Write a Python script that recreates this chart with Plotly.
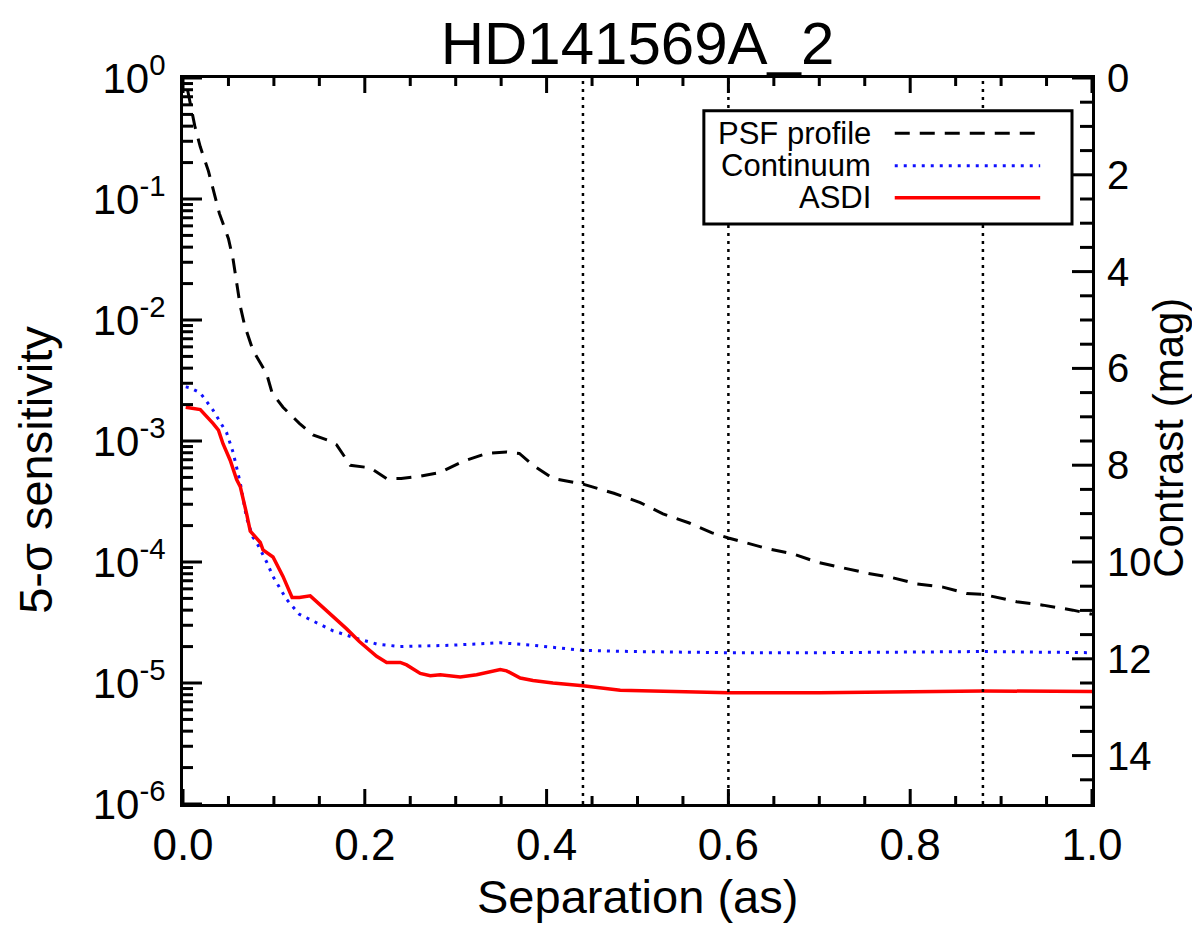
import math
import plotly.graph_objects as go

# ---------------- data ----------------
psf_sep = [0.005, 0.013, 0.019, 0.028, 0.040, 0.050, 0.055, 0.063, 0.068, 0.077,
           0.092, 0.098, 0.110, 0.120, 0.128, 0.143, 0.162, 0.169, 0.184, 0.206,
           0.224, 0.240, 0.260, 0.283, 0.308, 0.334, 0.356, 0.370, 0.385, 0.407,
           0.440, 0.474, 0.503, 0.528, 0.557, 0.582, 0.600, 0.643, 0.671, 0.697,
           0.726, 0.752, 0.781, 0.807, 0.836, 0.862, 0.880, 0.917, 0.946, 0.979, 1.000]
psf_val = [0.80, 0.40, 0.27, 0.17, 0.076, 0.047, 0.032, 0.013, 0.0089, 0.0056,
           0.0036, 0.0025, 0.0019, 0.0016, 0.0014, 0.00112, 0.0010, 0.00093, 0.00063, 0.00060,
           0.00049, 0.00049, 0.00051, 0.00055, 0.00068, 0.00079, 0.00081, 0.00079, 0.00063, 0.00049,
           0.00044, 0.00037, 0.00031, 0.00025, 0.00021, 0.000174, 0.000158, 0.000129, 0.000117, 0.000100,
           8.9e-5, 8.1e-5, 7.4e-5, 6.6e-5, 6.2e-5, 5.5e-5, 5.4e-5, 4.7e-5, 4.4e-5, 4.0e-5, 3.7e-5]

cont_sep = [0.003, 0.008, 0.019, 0.033, 0.048, 0.055, 0.063, 0.070, 0.077, 0.081,
            0.092, 0.099, 0.114, 0.128, 0.165, 0.190, 0.213, 0.239, 0.294, 0.349,
            0.385, 0.440, 0.495, 0.600, 0.700, 0.800, 0.880, 1.000]
cont_val = [2.8e-3, 2.75e-3, 2.5e-3, 1.8e-3, 1.17e-3, 8.1e-4, 4.5e-4, 2.3e-4, 1.6e-4, 1.45e-4,
            1.0e-4, 7.6e-5, 4.9e-5, 3.7e-5, 2.7e-5, 2.35e-5, 2.1e-5, 2.0e-5, 2.05e-5, 2.15e-5,
            2.05e-5, 1.86e-5, 1.82e-5, 1.78e-5, 1.78e-5, 1.80e-5, 1.82e-5, 1.78e-5]

asdi_sep = [0.003, 0.019, 0.033, 0.039, 0.044, 0.052, 0.059, 0.063, 0.070, 0.074,
            0.085, 0.088, 0.099, 0.110, 0.120, 0.128, 0.140, 0.147, 0.154, 0.165,
            0.180, 0.194, 0.213, 0.224, 0.239, 0.246, 0.261, 0.272, 0.283, 0.305,
            0.323, 0.349, 0.356, 0.371, 0.385, 0.407, 0.440, 0.481, 0.532, 0.600,
            0.700, 0.800, 0.880, 1.000]
asdi_val = [1.9e-3, 1.82e-3, 1.4e-3, 1.23e-3, 9.5e-4, 6.9e-4, 4.8e-4, 4.2e-4, 2.5e-4, 1.8e-4,
            1.45e-4, 1.26e-4, 1.1e-4, 7.6e-5, 5.1e-5, 5.1e-5, 5.25e-5, 4.7e-5, 4.2e-5, 3.6e-5,
            2.8e-5, 2.2e-5, 1.66e-5, 1.48e-5, 1.48e-5, 1.41e-5, 1.2e-5, 1.15e-5, 1.17e-5, 1.12e-5,
            1.17e-5, 1.29e-5, 1.26e-5, 1.1e-5, 1.05e-5, 1.0e-5, 9.5e-6, 8.7e-6, 8.5e-6, 8.3e-6,
            8.3e-6, 8.4e-6, 8.6e-6, 8.5e-6]

marker_sep = [0.44, 0.60, 0.88]

series_names = ["PSF profile", "Continuum", "ASDI"]
x_ticks = [0.0, 0.2, 0.4, 0.6, 0.8, 1.0]
x_ticklabels = ["0.0", "0.2", "0.4", "0.6", "0.8", "1.0"]
x_minor_ticks = [0.05, 0.10, 0.15, 0.25, 0.30, 0.35, 0.45, 0.50, 0.55,
                 0.65, 0.70, 0.75, 0.85, 0.90, 0.95]
y_ticks = [1e0, 1e-1, 1e-2, 1e-3, 1e-4, 1e-5, 1e-6]
y_ticklabels = ["10<sup>0</sup>", "10<sup>-1</sup>", "10<sup>-2</sup>", "10<sup>-3</sup>",
                "10<sup>-4</sup>", "10<sup>-5</sup>", "10<sup>-6</sup>"]
mag_ticks = [0, 2, 4, 6, 8, 10, 12, 14]
mag_minor_ticks = [0.5, 1, 1.5, 2.5, 3, 3.5, 4.5, 5, 5.5, 6.5, 7, 7.5, 8.5, 9, 9.5,
                   10.5, 11, 11.5, 12.5, 13, 13.5, 14.5]

# ---------------- geometry ----------------
FIG_W, FIG_H = 1192, 928
M_L, M_R, M_T, M_B = 175, 108, 70, 132
PLOT_W = FIG_W - M_L - M_R
PLOT_H = FIG_H - M_T - M_B
X_RANGE = [0, 1]
LOG_RANGE = [-6, 0]
MAG_RANGE = [15, 0]
px_x = PLOT_W / (X_RANGE[1] - X_RANGE[0])          # pixels per unit of separation
px_dec = PLOT_H / (LOG_RANGE[1] - LOG_RANGE[0])    # pixels per decade

FONT = "Liberation Sans, Arial, Helvetica, sans-serif"
styles = [dict(color="black", width=3, dash="15px,10px"),
          dict(color="#1010ff", width=3, dash="3px,6px"),
          dict(color="#ff0000", width=3.5)]

fig = go.Figure()
for sx, sv, nm, st in zip([psf_sep, cont_sep, asdi_sep], [psf_val, cont_val, asdi_val],
                          series_names, styles):
    fig.add_trace(go.Scatter(x=sx, y=sv, mode="lines", name=nm, line=st,
                             showlegend=False))

# invisible trace so the right (magnitude) axis is active
fig.add_trace(go.Scatter(x=[0.5], y=[7], yaxis="y2", mode="markers",
                         marker=dict(opacity=0), showlegend=False, hoverinfo="skip"))

for xv in marker_sep:
    fig.add_shape(type="line", xref="x", yref="paper", x0=xv, x1=xv, y0=0, y1=1,
                  line=dict(color="black", width=2.5, dash="3px,5px"), layer="above")

# ---- inward tick marks: one short two-point line per tick, on the main axes ----
TK = dict(color="black", width=3)


def seg(xs, ys):
    fig.add_trace(go.Scatter(x=xs, y=ys, mode="lines", line=TK, cliponaxis=False,
                             showlegend=False, hoverinfo="skip"))


y_bot, y_top = 10.0 ** LOG_RANGE[0], 10.0 ** LOG_RANGE[1]
for vals, length in ((x_ticks, 15), (x_minor_ticks, 8)):
    f = 10.0 ** (length / px_dec)
    for xv in vals:
        seg([xv, xv], [y_bot, y_bot * f])
        seg([xv, xv], [y_top, y_top / f])

left_minor = [m * 10.0 ** e for e in range(-6, 0) for m in range(2, 10)]
for vals, length in ((y_ticks, 19), (left_minor, 10)):
    d = length / px_x
    for v in vals:
        seg([X_RANGE[0], X_RANGE[0] + d], [v, v])

for vals, length in ((mag_ticks, 20), (mag_minor_ticks, 12)):
    d = length / px_x
    for mg in vals:
        s = 10.0 ** (-mg / 2.5)
        seg([X_RANGE[1], X_RANGE[1] - d], [s, s])

# custom legend (symbols to the right of labels)
leg_x0, leg_x1, leg_y0, leg_y1 = 0.573, 0.978, 0.799, 0.955
fig.add_shape(type="rect", xref="paper", yref="paper", x0=leg_x0, x1=leg_x1,
              y0=leg_y0, y1=leg_y1, line=dict(color="black", width=3),
              fillcolor="white", layer="above")
row_y = [0.924, 0.879, 0.835]
for nm, st, ry in zip(series_names, styles, row_y):
    fig.add_annotation(xref="paper", yref="paper", x=0.759, y=ry, text=nm,
                       xanchor="right", yanchor="middle", showarrow=False,
                       font=dict(family=FONT, size=31, color="black"))
    fig.add_shape(type="line", xref="paper", yref="paper", x0=0.783, x1=0.943,
                  y0=ry, y1=ry, line=st, layer="above")

# axis titles
fig.add_annotation(xref="paper", yref="paper", x=0.5, y=-0.128, text="Separation (as)",
                   showarrow=False, xanchor="center", yanchor="middle",
                   font=dict(family=FONT, size=47, color="black"))
fig.add_annotation(xref="paper", yref="paper", x=-0.163, y=0.46, text="5-σ sensitivity",
                   showarrow=False, textangle=-90, xanchor="center", yanchor="middle",
                   font=dict(family=FONT, size=47, color="black"))
fig.add_annotation(xref="paper", yref="paper", x=1.084, y=0.505, text="Contrast (mag)",
                   showarrow=False, textangle=-90, xanchor="center", yanchor="middle",
                   font=dict(family=FONT, size=42, color="black"))

fig.update_layout(
    width=FIG_W, height=FIG_H,
    margin=dict(l=M_L, r=M_R, t=M_T, b=M_B),
    paper_bgcolor="white", plot_bgcolor="white",
    font=dict(family=FONT, color="black"),
    title=dict(text="HD141569A_2", x=0.5, xref="paper", xanchor="center",
               y=1 - 35 / FIG_H, yanchor="middle",
               font=dict(family=FONT, size=60, color="black")),
    xaxis=dict(range=X_RANGE, tickmode="array", tickvals=x_ticks, ticktext=x_ticklabels,
               showgrid=False, zeroline=False, showline=True, linecolor="black",
               linewidth=3, mirror=True, ticks="",
               tickfont=dict(family=FONT, size=44, color="black")),
    yaxis=dict(type="log", range=LOG_RANGE, tickmode="array", tickvals=y_ticks,
               ticktext=y_ticklabels,
               showgrid=False, zeroline=False, showline=True, linecolor="black",
               linewidth=3, ticks="", ticklabelstandoff=6,
               tickfont=dict(family=FONT, size=42, color="black")),
    yaxis2=dict(overlaying="y", side="right", anchor="x", range=MAG_RANGE,
                tickmode="array", tickvals=mag_ticks, showgrid=False, zeroline=False,
                showline=True, linecolor="black", linewidth=3, ticks="",
                ticklabelstandoff=4,
                tickfont=dict(family=FONT, size=40, color="black")),
)

fig.write_html("out.html")
